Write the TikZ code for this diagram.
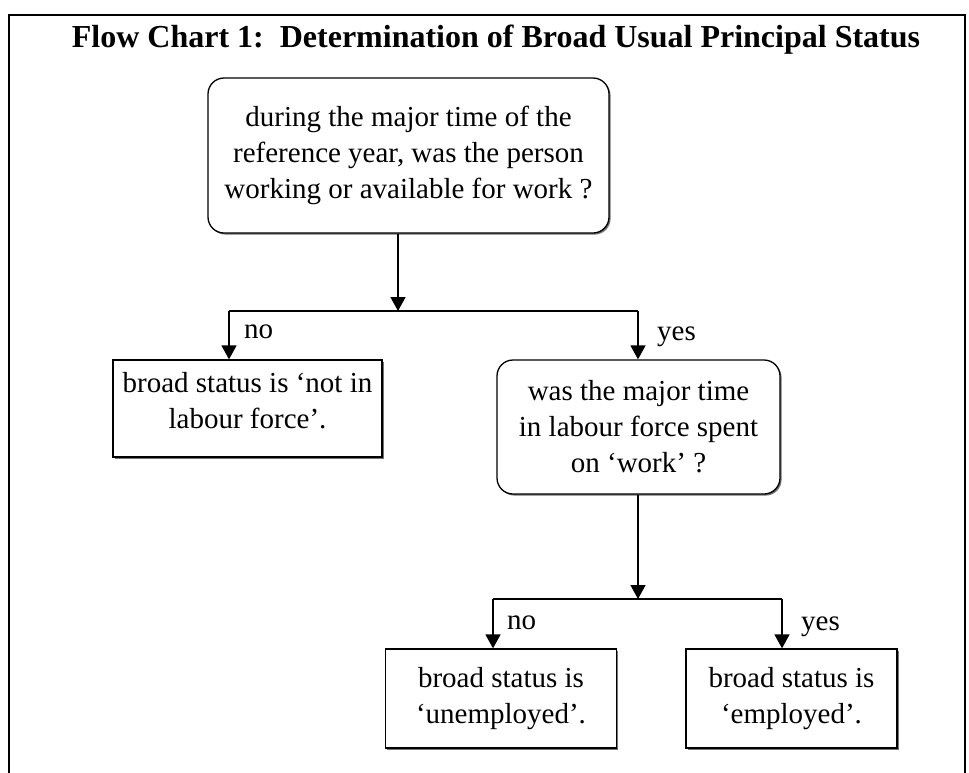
\documentclass[tikz,border=0pt]{standalone}
\usepackage{fontspec}
\setmainfont{Liberation Serif}
\usetikzlibrary{arrows.meta,shadows}
\begin{document}
\begin{tikzpicture}[x=1pt,y=-1pt,
  txt/.style={font=\fontsize{29}{36}\selectfont, align=center, inner sep=0pt},
  boxbase/.style={txt, draw, line width=1.3pt, fill=white,
    drop shadow={shadow xshift=1.6pt, shadow yshift=-1.6pt, fill=black!55, opacity=1}},
  rbox/.style={boxbase, rounded corners=16pt},
  sbox/.style={boxbase},
  arr/.style={line width=1.6pt, -{Triangle[width=15pt,length=14pt]}},
  ln/.style={line width=1.6pt},
  lab/.style={txt, anchor=base west}]
\useasboundingbox (0,0) rectangle (969,772);
\fill[white] (0,0) rectangle (969,772);
% frame
\draw[line width=2.4pt] (9,775) -- (9,15) -- (965,15) -- (965,775);
% title
\node[anchor=base, inner sep=0pt, font=\fontsize{32}{36}\selectfont\bfseries] (title) at (496,47)
  {Flow Chart 1:\ \ Determination of Broad Usual Principal Status};
% question 1
\node[rbox, minimum width=401pt, minimum height=155pt] (q1) at (408.5,155.5)
  {during the major time of the\\reference year, was the person\\working or available for work ?};
% not in labour force
\node[sbox, minimum width=269pt, minimum height=97pt] (nilf) at (247.5,408.5)
  {broad status is ‘not in\\labour force’.\\[-20pt]};
% question 2
\node[rbox, minimum width=283pt, minimum height=134pt] (q2) at (638.5,427)
  {was the major time\\in labour force spent\\on ‘work’ ?};
% unemployed / employed
\node[sbox, minimum width=231pt, minimum height=99pt] (unemp) at (501,698.5)
  {broad status is\\‘unemployed’.};
\node[sbox, minimum width=211pt, minimum height=99pt] (emp) at (791.5,698.5)
  {broad status is\\‘employed’.};
% junctions
\coordinate (j1) at (398,311);
\coordinate (j1l) at (229,311);
\coordinate (j1r) at (638,311);
\coordinate (j2) at (638,599);
\coordinate (j2l) at (493,599);
\coordinate (j2r) at (782,599);
% connectors
\draw[arr] (q1.south -| j1) -- (j1);
\draw[ln] (j1l) -- (j1r);
\draw[arr] (j1l) -- (j1l |- nilf.north);
\draw[arr] (j1r) -- (j1r |- q2.north);
\draw[arr] (q2.south -| j2) -- (j2);
\draw[ln] (j2l) -- (j2r);
\draw[arr] (j2l) -- (j2l |- unemp.north);
\draw[arr] (j2r) -- (j2r |- emp.north);
% labels
\node[lab] (no1) at (244,338) {no};
\node[lab] (yes1) at (657,340) {yes};
\node[lab] (no2) at (507,629) {no};
\node[lab] (yes2) at (801,630) {yes};
\end{tikzpicture}
\end{document}
